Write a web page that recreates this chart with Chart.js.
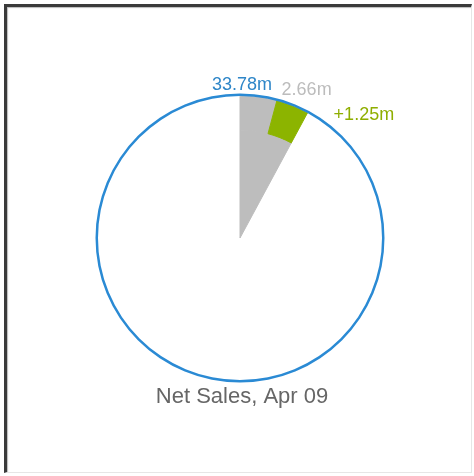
<!DOCTYPE html>
<html>
<head>
<meta charset="utf-8">
<script src="https://cdn.jsdelivr.net/npm/chart.js@4.4.1/dist/chart.umd.min.js"></script>
<style>
    body { margin: 0; background: #fff; }
    #frame {
        position: absolute; left: 4px; top: 4px; width: 464px; height: 465px;
        border-top: 3px solid #3a3a3a; border-left: 3px solid #3a3a3a;
        border-right: 1px solid #e6e6e6; border-bottom: 1px solid #e6e6e6;
        box-shadow: inset 1px 1px 1px #bbb;
    }
    #wrap { position: absolute; left: 0; top: 0; width: 474px; height: 476px; }
</style>
</head>
<body>
<div id="frame"></div>
<div id="wrap"><canvas id="sales-chart" width="474" height="476"></canvas></div>
<script>
// net sales, previous period and change (millions)
const totalSales = 33.78;
const prevSales = 2.66;
const salesChange = 1.25;
const chartTitle = "Net Sales, Apr 09";

const blue = "#2a8ad4";
const gray = "#bdbdbd";
const green = "#8cb400";
const none = "rgba(0,0,0,0)";

const rest = totalSales - prevSales;

// text around the pie, placed from the arc elements
const labelPlugin = {
    id: "salesLabels",
    afterDraw(chart) {
        const ctx = chart.ctx;
        const ring = chart.getDatasetMeta(0).data[0];
        const seg = chart.getDatasetMeta(1).data[1];
        const cx = ring.x, cy = ring.y, r = ring.outerRadius;
        const endX = cx + Math.cos(seg.endAngle) * r;
        const endY = cy + Math.sin(seg.endAngle) * r;

        ctx.save();
        ctx.font = "18px 'Liberation Sans', Arial, sans-serif";
        ctx.textBaseline = "middle";

        ctx.fillStyle = "#2e86c8";
        ctx.textAlign = "center";
        ctx.fillText(totalSales.toFixed(2) + "m", cx + 2, cy - r - 8);

        ctx.fillStyle = "#bcbcbc";
        ctx.fillText(prevSales.toFixed(2) + "m", endX - 2, endY - 21);

        ctx.fillStyle = "#8fae00";
        ctx.textAlign = "left";
        ctx.fillText("+" + salesChange.toFixed(2) + "m", endX + 25, endY + 4);

        ctx.fillStyle = "#666";
        ctx.textAlign = "center";
        ctx.font = "22px 'Liberation Sans', Arial, sans-serif";
        ctx.fillText(chartTitle, cx + 2, cy + r + 14);
        ctx.restore();
    }
};

new Chart(document.getElementById("sales-chart"), {
    type: "pie",
    data: {
        datasets: [
            {   // outline of the total
                data: [totalSales],
                backgroundColor: [blue],
                borderWidth: 0,
                weight: 2.5
            },
            {   // change sits on the outer band of the previous slice
                data: [prevSales - salesChange, salesChange, rest],
                backgroundColor: [gray, green, none],
                borderColor: [gray, green, none],
                borderWidth: 1,
                weight: 34
            },
            {
                data: [prevSales, rest],
                backgroundColor: [gray, none],
                borderColor: [gray, none],
                borderWidth: 1,
                weight: 108
            }
        ]
    },
    options: {
        responsive: false,
        animation: false,
        layout: { padding: { left: 95.5, right: 89.5, top: 93.5, bottom: 93.5 } },
        plugins: {
            legend: { display: false },
            tooltip: { enabled: false }
        }
    },
    plugins: [labelPlugin]
});
</script>
</body>
</html>
